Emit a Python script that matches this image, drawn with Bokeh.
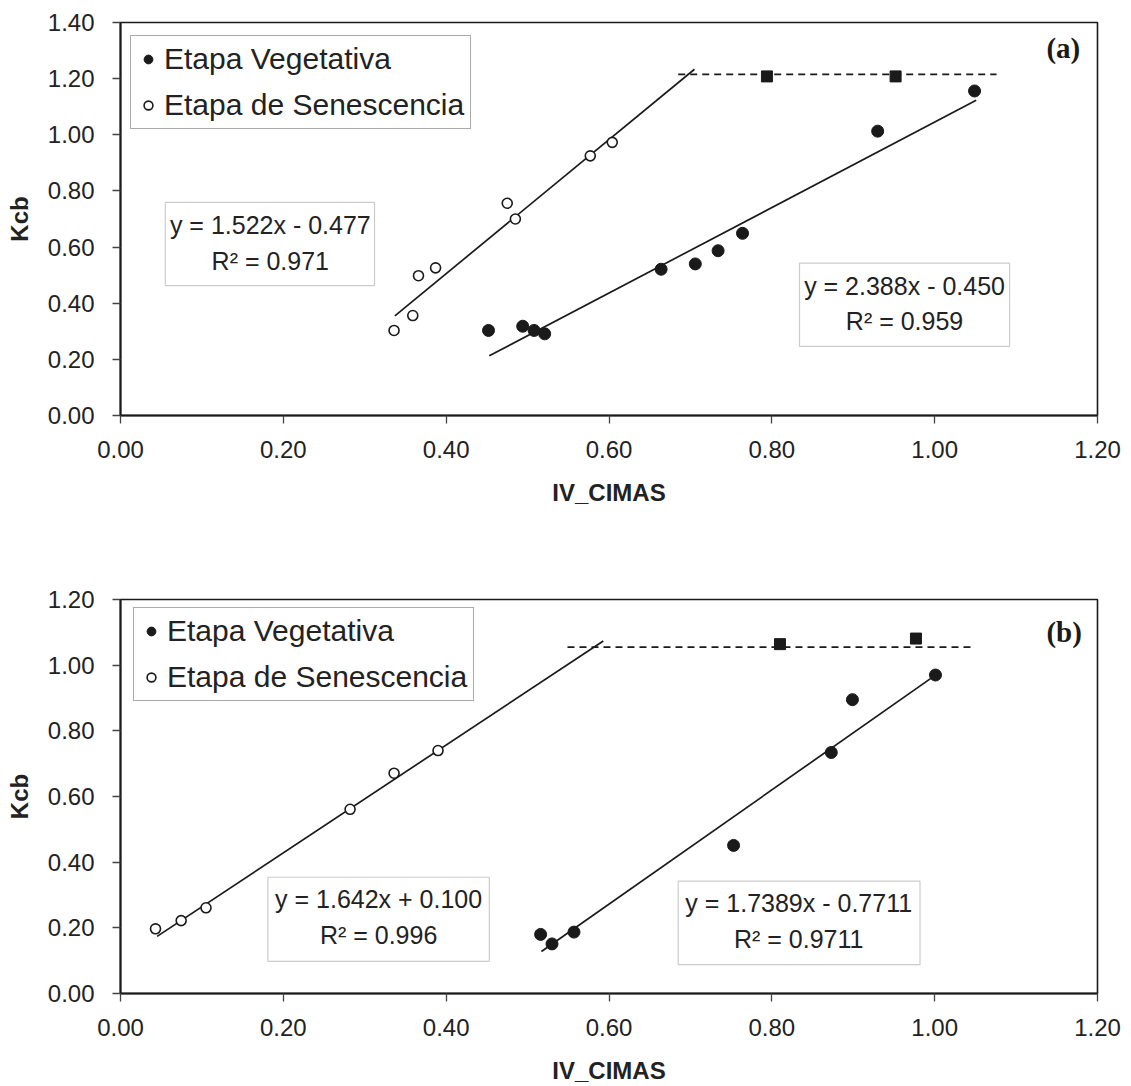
from bokeh.plotting import figure
from bokeh.layouts import column
from bokeh.models import (Range1d, FixedTicker, PrintfTickFormatter, Label,
                          BoxAnnotation, Legend, LegendItem)
from bokeh.embed import file_html
from bokeh.resources import INLINE

# ---------------- data: panel (a) ----------------
veg_a_x = [0.452, 0.494, 0.508, 0.521, 0.664, 0.706, 0.734, 0.764, 0.930, 1.049]
veg_a_y = [0.303, 0.318, 0.303, 0.291, 0.521, 0.540, 0.587, 0.649, 1.013, 1.156]
sen_a_x = [0.336, 0.359, 0.366, 0.387, 0.475, 0.485, 0.577, 0.604]
sen_a_y = [0.303, 0.356, 0.498, 0.526, 0.756, 0.700, 0.925, 0.973]
max_a_x = [0.794, 0.952]
max_a_y = [1.208, 1.208]
plateau_a_y = 1.215
plateau_a_x = [0.685, 1.076]
# fitted lines: (slope, intercept, x_start, x_end)
fit_a_sen = (2.388, -0.450, 0.337, 0.705)
fit_a_veg = (1.522, -0.477, 0.453, 1.051)
eq_a_left = ["y = 1.522x - 0.477", "R\u00b2 = 0.971"]
eq_a_right = ["y = 2.388x - 0.450", "R\u00b2 = 0.959"]

# ---------------- data: panel (b) ----------------
veg_b_x = [0.516, 0.530, 0.557, 0.753, 0.873, 0.899, 1.001]
veg_b_y = [0.180, 0.151, 0.187, 0.451, 0.734, 0.895, 0.970]
sen_b_x = [0.043, 0.0745, 0.105, 0.282, 0.336, 0.390]
sen_b_y = [0.197, 0.222, 0.261, 0.561, 0.671, 0.740]
max_b_x = [0.810, 0.977]
max_b_y = [1.064, 1.081]
plateau_b_y = 1.055
plateau_b_x = [0.549, 1.044]
fit_b_sen = (1.642, 0.100, 0.045, 0.593)
fit_b_veg = (1.7389, -0.7711, 0.517, 1.001)
eq_b_left = ["y = 1.642x + 0.100", "R\u00b2 = 0.996"]
eq_b_right = ["y = 1.7389x - 0.7711", "R\u00b2 = 0.9711"]

x_ticks = [0.0, 0.2, 0.4, 0.6, 0.8, 1.0, 1.2]
y_ticks_a = [0.0, 0.2, 0.4, 0.6, 0.8, 1.0, 1.2, 1.4]
y_ticks_b = [0.0, 0.2, 0.4, 0.6, 0.8, 1.0, 1.2]
legend_labels = ["Etapa Vegetativa", "Etapa de Senescencia"]
x_title = "IV_CIMAS"
y_title = "Kcb"

INK = "#1a1a1a"
TXT = "#222222"
FONT = "Liberation Sans"


def make_panel(height, borders, ymax, yticks, veg, sen, mx, plateau, fits,
               eqs, eq_boxes, eq_pos, legend_loc, tag, tag_pos):
    left, right, top, bottom = borders
    p = figure(width=1131, height=height, x_range=Range1d(0, 1.2),
               y_range=Range1d(0, ymax), output_backend="svg",
               toolbar_location=None, min_border_left=left,
               min_border_right=right, min_border_top=top,
               min_border_bottom=bottom)
    p.xgrid.visible = False
    p.ygrid.visible = False
    p.outline_line_color = INK
    p.outline_line_width = 1.6
    p.background_fill_color = "white"
    p.border_fill_color = "white"

    p.xaxis.ticker = FixedTicker(ticks=x_ticks)
    p.yaxis.ticker = FixedTicker(ticks=yticks)
    p.xaxis.axis_label = x_title
    p.yaxis.axis_label = y_title
    for ax in (p.xaxis[0], p.yaxis[0]):
        ax.formatter = PrintfTickFormatter(format="%.2f")
        ax.major_tick_in = 0
        ax.major_tick_out = 8
        ax.minor_tick_in = 0
        ax.minor_tick_out = 0
        ax.axis_line_width = 2
        ax.axis_line_color = INK
        ax.major_tick_line_color = "#444444"
        ax.major_tick_line_width = 1.3
        ax.major_label_text_font = FONT
        ax.major_label_text_font_size = "24px"
        ax.major_label_text_color = TXT
        ax.axis_label_text_font = FONT
        ax.axis_label_text_font_style = "bold"
        ax.axis_label_text_font_size = "24px"
        ax.axis_label_text_color = TXT
    p.xaxis.major_label_standoff = 17
    p.xaxis.axis_label_standoff = 18
    p.yaxis.major_label_standoff = 18
    p.yaxis.axis_label_standoff = 12

    # fitted lines
    for (m, b, x0, x1) in fits:
        p.line([x0, x1], [m * x0 + b, m * x1 + b], line_color=INK, line_width=1.7)
    # plateau (dashed)
    p.line(plateau[0], [plateau[1], plateau[1]], line_color=INK,
           line_width=1.7, line_dash="7 5")

    r_veg = p.scatter(veg[0], veg[1], marker="circle", size=12,
                      fill_color=INK, line_color=INK)
    r_sen = p.scatter(sen[0], sen[1], marker="circle", size=10,
                      fill_color="white", line_color=INK, line_width=1.6)
    p.scatter(mx[0], mx[1], marker="square", size=11, fill_color=INK,
              line_color=INK)

    for (l, r, t, btm) in eq_boxes:
        p.add_layout(BoxAnnotation(left=l, right=r, top=t, bottom=btm,
                                   fill_color="white", fill_alpha=1.0,
                                   line_color="#555555", line_width=1.2))
    for lines, (cx, y1, y2) in zip(eqs, eq_pos):
        for txt, yy in zip(lines, (y1, y2)):
            p.add_layout(Label(x=cx, y=yy, text=txt, text_align="center",
                               text_baseline="middle", text_font=FONT,
                               text_font_size="25px", text_color=TXT))

    p.add_layout(Label(x=tag_pos[0], y=tag_pos[1], text=tag,
                       text_align="center", text_baseline="middle",
                       text_font="Liberation Serif", text_font_style="bold",
                       text_font_size="29px", text_color=INK))

    legend = Legend(items=[LegendItem(label=legend_labels[0], renderers=[r_veg]),
                           LegendItem(label=legend_labels[1], renderers=[r_sen])],
                    location=legend_loc, margin=0, padding=6, spacing=12,
                    glyph_width=22, glyph_height=34, label_height=34,
                    label_standoff=5, label_text_font=FONT,
                    label_text_font_size="30px", label_text_color=TXT,
                    border_line_color="#555555", border_line_width=1.2,
                    background_fill_alpha=1.0)
    p.add_layout(legend)
    return p


pa = make_panel(545, (115, 33, 22, 130), 1.4, y_ticks_a,
                (veg_a_x, veg_a_y), (sen_a_x, sen_a_y), (max_a_x, max_a_y),
                (plateau_a_x, plateau_a_y), [fit_a_sen, fit_a_veg],
                [eq_a_left, eq_a_right],
                [(0.055, 0.312, 0.759, 0.463), (0.834, 1.092, 0.543, 0.246)],
                [(0.184, 0.680, 0.552), (0.963, 0.463, 0.338)],
                (10, 286), "(a)", (1.158, 1.31))

pb = make_panel(541, (120, 34, 54, 92), 1.2, y_ticks_b,
                (veg_b_x, veg_b_y), (sen_b_x, sen_b_y), (max_b_x, max_b_y),
                (plateau_b_x, plateau_b_y), [fit_b_sen, fit_b_veg],
                [eq_b_left, eq_b_right],
                [(0.181, 0.453, 0.354, 0.098), (0.685, 0.982, 0.342, 0.088)],
                [(0.317, 0.288, 0.179), (0.833, 0.2765, 0.165)],
                (13, 292), "(b)", (1.159, 1.10))

layout = column(pa, pb, spacing=0)
open("out.html", "w").write(file_html(layout, INLINE))
